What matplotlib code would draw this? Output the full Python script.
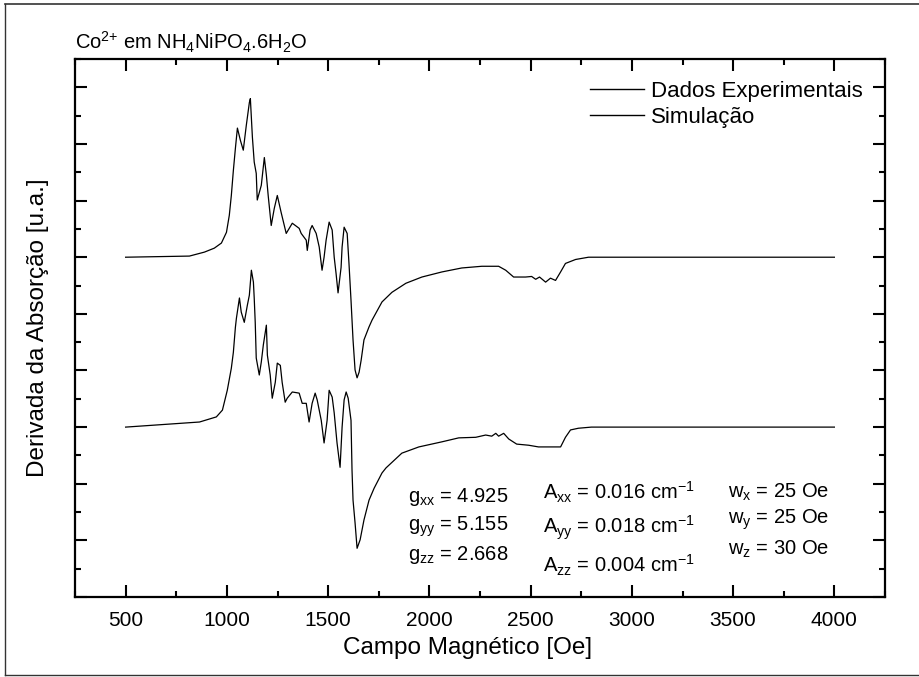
import matplotlib
matplotlib.use("Agg")
import matplotlib.pyplot as plt
from matplotlib.ticker import MultipleLocator, NullFormatter
from matplotlib.lines import Line2D
import numpy as np

plt.rcParams['font.family'] = ['Liberation Sans', 'DejaVu Sans']
plt.rcParams['mathtext.fontset'] = 'custom'
plt.rcParams['mathtext.rm'] = 'Liberation Sans'
plt.rcParams['mathtext.it'] = 'Liberation Sans'
plt.rcParams['mathtext.bf'] = 'Liberation Sans:bold'

# ---- data (field in Oe, derivative signal relative to each baseline, a.u.) ----
exp_field = [500, 815, 889, 938, 973, 998, 1012, 1022, 1032, 1042, 1052, 1067, 1081, 1096,
             1111, 1116, 1126, 1135, 1145, 1150, 1170, 1185, 1195, 1204, 1219, 1234, 1249,
             1268, 1293, 1323, 1357, 1367, 1392, 1397, 1411, 1421, 1441, 1456, 1470, 1480,
             1490, 1505, 1520, 1530, 1539, 1549, 1564, 1569, 1579, 1594, 1603, 1613, 1623,
             1633, 1643, 1653, 1663, 1677, 1702, 1717, 1766, 1815, 1884, 1963, 2062, 2160,
             2259, 2342, 2377, 2416, 2475, 2505, 2525, 2544, 2574, 2598, 2623, 2648, 2672,
             2722, 2786, 4000]
exp_signal = [0.00, 0.02, 0.09, 0.16, 0.25, 0.44, 0.74, 1.09, 1.53, 1.92, 2.28, 2.06, 1.89, 2.33,
              2.73, 2.80, 2.12, 1.68, 1.48, 1.01, 1.27, 1.76, 1.45, 1.09, 0.56, 0.86, 1.09,
              0.79, 0.42, 0.60, 0.51, 0.42, 0.30, 0.12, 0.48, 0.56, 0.42, 0.18, -0.23, 0.00,
              0.30, 0.62, 0.48, 0.00, -0.28, -0.63, -0.18, 0.18, 0.53, 0.42, -0.11, -0.76, -1.46,
              -1.99, -2.13, -2.03, -1.82, -1.46, -1.23, -1.11, -0.79, -0.62, -0.46, -0.35, -0.26, -0.19,
              -0.16, -0.16, -0.23, -0.35, -0.35, -0.34, -0.39, -0.35, -0.44, -0.37, -0.41, -0.26, -0.11,
              -0.04, 0.00, 0.00]

sim_field = [500, 865, 948, 978, 1002, 1022, 1032, 1042, 1047, 1062, 1071, 1086, 1101, 1111,
             1121, 1131, 1135, 1140, 1145, 1160, 1170, 1180, 1195, 1200, 1214, 1224, 1239,
             1249, 1264, 1273, 1288, 1298, 1323, 1357, 1372, 1392, 1406, 1421, 1436, 1446,
             1466, 1480, 1495, 1505, 1520, 1530, 1544, 1559, 1569, 1579, 1589, 1599, 1613,
             1618, 1623, 1633, 1643, 1658, 1677, 1702, 1727, 1766, 1786, 1864, 1948, 2062,
             2145, 2229, 2278, 2308, 2328, 2342, 2367, 2392, 2431, 2490, 2539, 2598, 2648,
             2672, 2697, 2736, 2800, 4000]
sim_signal = [0.00, 0.09, 0.18, 0.30, 0.65, 1.04, 1.32, 1.76, 1.92, 2.28, 2.03, 1.85, 2.15, 2.33,
              2.77, 2.56, 2.28, 1.85, 1.22, 0.92, 1.15, 1.45, 1.80, 1.27, 0.92, 0.51, 0.79,
              1.13, 1.09, 0.79, 0.44, 0.51, 0.62, 0.60, 0.42, 0.42, 0.09, 0.42, 0.60, 0.48,
              0.12, -0.28, 0.12, 0.65, 0.53, 0.25, -0.28, -0.71, 0.00, 0.48, 0.62, 0.51, 0.12,
              -0.76, -1.29, -1.69, -2.14, -1.99, -1.64, -1.29, -1.08, -0.81, -0.72, -0.46, -0.35, -0.26,
              -0.19, -0.18, -0.14, -0.16, -0.11, -0.16, -0.11, -0.21, -0.30, -0.32, -0.35, -0.35, -0.35,
              -0.18, -0.05, -0.02, 0.00, 0.00]

exp_offset = 6.0
sim_offset = 3.0

xticks = [500, 1000, 1500, 2000, 2500, 3000, 3500, 4000]

title = r"Co$^{2{+}}$ em NH$_{4}$NiPO$_{4}$.6H$_{2}$O"
legend_labels = ["Dados Experimentais", "Simulação"]
params_g = [r"g$_{xx}$ = 4.925", r"g$_{yy}$ = 5.155", r"g$_{zz}$ = 2.668"]
params_A = [r"A$_{xx}$ = 0.016 cm$^{-1}$", r"A$_{yy}$ = 0.018 cm$^{-1}$", r"A$_{zz}$ = 0.004 cm$^{-1}$"]
params_w = [r"w$_{x}$ = 25 Oe", r"w$_{y}$ = 25 Oe", r"w$_{z}$ = 30 Oe"]

# ---- figure ----
fig = plt.figure(figsize=(9.19, 6.77), dpi=100)
ax = fig.add_axes([75/919, 1-597/677, 810/919, 538/677])

ax.plot(exp_field, np.array(exp_signal) + exp_offset, color='black', lw=0.9,
        label=legend_labels[0])
ax.plot(sim_field, np.array(sim_signal) + sim_offset, color='black', lw=0.9,
        label=legend_labels[1])

ax.set_xlim(250, 4250)
ax.set_ylim(0, 9.5)
ax.set_xticks(xticks)
ax.xaxis.set_minor_locator(MultipleLocator(250))
ax.yaxis.set_major_locator(MultipleLocator(1))
ax.yaxis.set_minor_locator(MultipleLocator(0.5))
ax.yaxis.set_major_formatter(NullFormatter())
ax.tick_params(which='both', direction='in', top=True, right=True, width=1.5)
ax.tick_params(which='major', length=8.5, labelsize=15, pad=10)
ax.tick_params(which='minor', length=4.5)
for s in ax.spines.values():
    s.set_linewidth(1.6)

ax.set_xlabel("Campo Magnético [Oe]", fontsize=17.5, labelpad=3)
ax.set_ylabel("Derivada da Absorção [u.a.]", fontsize=17.5, labelpad=9)
ax.xaxis.set_label_coords(0.485, -0.075)

fig.text(75/919, 1-42/677, title, fontsize=14.5, va='center', ha='left')

leg_handles = [Line2D([], [], color='black', lw=1.0), Line2D([], [], color='black', lw=1.0)]
ax.legend(leg_handles, legend_labels, loc='upper right', bbox_to_anchor=(0.973, 0.96),
          frameon=False, fontsize=16, handlelength=2.4, handletextpad=0.35,
          labelspacing=0.25, borderpad=0, borderaxespad=0)

for i, (yg, yA, yw) in enumerate(zip([0.186, 0.130, 0.078], [0.195, 0.128, 0.059], [0.195, 0.143, 0.089])):
    ax.text(0.411, yg, params_g[i], transform=ax.transAxes, fontsize=14.5, va='center', ha='left')
    ax.text(0.578, yA, params_A[i], transform=ax.transAxes, fontsize=14.5, va='center', ha='left')
    ax.text(0.806, yw, params_w[i], transform=ax.transAxes, fontsize=14.5, va='center', ha='left')

# page border of the scanned figure
fig.add_artist(Line2D([5/919, 5/919], [1-4/677, 1-675/677], color='#333333', lw=1.0,
                      transform=fig.transFigure))
fig.add_artist(Line2D([5/919, 1.0], [1-4/677, 1-4/677], color='#333333', lw=1.2,
                      transform=fig.transFigure))
fig.add_artist(Line2D([5/919, 1.0], [1-675/677, 1-675/677], color='#333333', lw=1.0,
                      transform=fig.transFigure))

fig.savefig("out.png", dpi=100)
